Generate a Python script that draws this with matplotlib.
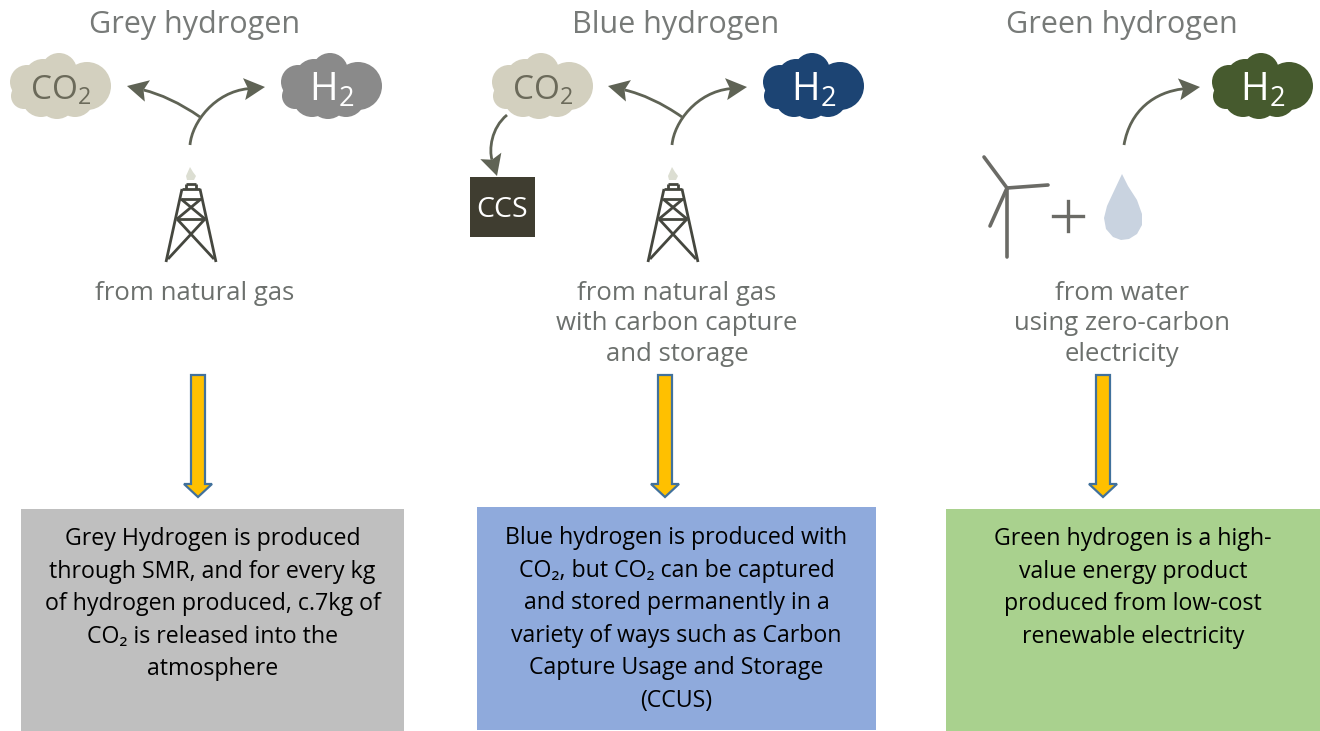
import matplotlib
matplotlib.use("Agg")
import matplotlib.pyplot as plt
import numpy as np
from matplotlib.patches import Circle, Polygon, Rectangle, PathPatch
from matplotlib.path import Path

plt.rcParams["font.family"] = ["Open Sans", "DejaVu Sans"]
plt.rcParams["mathtext.fontset"] = "custom"
plt.rcParams["mathtext.rm"] = "Open Sans"
plt.rcParams["mathtext.default"] = "regular"

TITLE_COLOR = "#777a78"
CAPTION_COLOR = "#6c706d"
ARROW_COLOR = "#5f6355"
TOWER_COLOR = "#45473f"

# column headers and captions
titles = ["Grey hydrogen", "Blue hydrogen", "Green hydrogen"]
title_x = [195, 676, 1122]
captions = [
    "from natural gas",
    "from natural gas\nwith carbon capture\nand storage",
    "from water\nusing zero-carbon\nelectricity",
]
caption_x = [195, 677, 1122]

# text boxes: left, top, right, bottom
box_edges = [(21, 509, 404, 731), (477, 507, 876, 730), (946, 509, 1320, 731)]
box_colors = ["#bfbfbf", "#8faadc", "#a9d18e"]
box_baselines = [545, 544, 545]
box_texts = [
    "Grey Hydrogen is produced\nthrough SMR, and for every kg\nof hydrogen produced, c.7kg of\nCO₂ is released into the\natmosphere",
    "Blue hydrogen is produced with\nCO₂, but CO₂ can be captured\nand stored permanently in a\nvariety of ways such as Carbon\nCapture Usage and Storage\n(CCUS)",
    "Green hydrogen is a high-\nvalue energy product\nproduced from low-cost\nrenewable electricity",
]

# clouds: centre x, centre y, colour, label, label colour, label size
clouds = [
    (59, 86, "#d3d0bf", r"$CO_2$", "#6b6a5a", 24),
    (330, 86, "#8a8a8a", r"$H_2$", "#ffffff", 28),
    (541, 86, "#d3d0bf", r"$CO_2$", "#6b6a5a", 24),
    (812, 86, "#1c4473", r"$H_2$", "#ffffff", 28),
    (1261, 86, "#465a2e", r"$H_2$", "#ffffff", 28),
]
cloud_lobes = [
    (-32, -4, 17), (-35, 10, 13), (-16, -8, 19), (0, -15, 18), (-18, 12, 19),
    (6, 2, 24), (28, 0, 24), (-2, 14, 19), (16, 12, 19), (-1, -6, 22),
]

# down arrows
down_arrow_x = [198, 665, 1103]

# curved arrows as bezier control points
grey_stems = [
    [(190, 145), (192, 122), (215, 92), (265, 87)],
    [(200, 117), (180, 103), (160, 94), (127, 86)],
]
blue_stems = [
    [(672, 145), (674, 122), (697, 92), (747, 87)],
    [(682, 117), (662, 103), (642, 94), (608, 86)],
    [(507, 115), (491, 128), (489, 150), (497, 176)],
]
green_stems = [[(1124, 145), (1130, 110), (1155, 92), (1200, 87)]]

# gas towers: centre x
tower_x = [191, 673]
tower_segments = [
    ((-25, 79), (-9, 6)), ((25, 79), (9, 6)), ((-9, 6), (9, 6)),
    ((-10, 16), (10, 16)), ((-14, 36), (14, 36)), ((-10, 16), (14, 36)),
    ((10, 16), (-14, 36)), ((-14, 36), (23, 76)), ((14, 36), (-23, 76)),
    ((-5, 1), (5, 1)), ((-5, 1), (-5, 6)), ((5, 1), (5, 6)),
]
flame_shape = [(-1, -13), (-5, -4), (-4, 0), (3, 0), (5, -4), (2, -8)]

# wind turbine and water drop
turbine_hub = (1007, 188)
turbine_ends = [(1007, 257), (984, 157), (1048, 185), (990, 226)]
plus_centre = (1068, 216)
drop_outline = [
    (1122, 174), (1128, 186), (1137, 200), (1142, 214), (1142, 225), (1137, 234),
    (1129, 239), (1121, 240), (1113, 237), (1106, 229), (1104, 218), (1107, 206),
    (1114, 191),
]


def draw_stem(ax, stem):
    # line stops inside the notch, head is a notched triangle on the end tangent
    pts = np.array(stem, dtype=float)
    direction = pts[3] - pts[2]
    direction = direction / np.hypot(*direction)
    normal = np.array([-direction[1], direction[0]])
    tip = pts[3]
    base = tip - 21 * direction
    notch = tip - 17 * direction
    line = pts.copy()
    line[3] = notch
    path = Path(line, [Path.MOVETO, Path.CURVE4, Path.CURVE4, Path.CURVE4])
    ax.add_patch(PathPatch(path, facecolor="none", edgecolor=ARROW_COLOR, lw=2.0))
    ax.add_patch(Polygon([tip, base + 11 * normal, notch, base - 11 * normal], closed=True,
                         facecolor=ARROW_COLOR, edgecolor="none"))


fig = plt.figure(figsize=(13.2, 7.31), dpi=100)
ax = fig.add_axes([0, 0, 1, 1])
ax.set_xlim(0, 1320)
ax.set_ylim(731, 0)
ax.axis("off")

for x, label in zip(title_x, titles):
    ax.text(x, 33, label, ha="center", va="baseline", fontsize=22, color=TITLE_COLOR)

for x, caption in zip(caption_x, captions):
    for i, line in enumerate(caption.split("\n")):
        ax.text(x, 300 + i * 30.5, line, ha="center", va="baseline", fontsize=18.5, color=CAPTION_COLOR)

for cx, cy, color, label, label_color, size in clouds:
    for dx, dy, r in cloud_lobes:
        ax.add_patch(Circle((cx + dx, cy + dy), r, color=color, lw=0))
    ax.text(cx + 2, cy + 5, label, ha="center", va="center", fontsize=size, color=label_color)

for stem in grey_stems + blue_stems + green_stems:
    draw_stem(ax, stem)

for x in tower_x:
    for (x0, y0), (x1, y1) in tower_segments:
        ax.plot([x + x0, x + x1], [183 + y0, 183 + y1], color=TOWER_COLOR, lw=2.0, solid_capstyle="butt")
    ax.add_patch(Polygon([(x + dx, 180 + dy) for dx, dy in flame_shape], closed=True,
                         facecolor="#dcded2", edgecolor="none"))

ax.add_patch(Rectangle((470, 177), 65, 60, facecolor="#3f3d30", edgecolor="none"))
ax.text(502, 210, "CCS", ha="center", va="center", fontsize=20.5, color="white")

for end in turbine_ends:
    ax.plot([turbine_hub[0], end[0]], [turbine_hub[1], end[1]], color="#6b6b66", lw=2.6, solid_capstyle="round")
ax.plot([plus_centre[0] - 15, plus_centre[0] + 15], [plus_centre[1]] * 2, color="#6b6b66", lw=2.4)
ax.plot([plus_centre[0]] * 2, [plus_centre[1] - 15, plus_centre[1] + 15], color="#6b6b66", lw=2.4)
ax.add_patch(Polygon(drop_outline, closed=True, facecolor="#c9d3e0", edgecolor="none"))

for x in down_arrow_x:
    shape = [(x - 7, 375), (x + 7, 375), (x + 7, 484), (x + 14, 484), (x, 497), (x - 14, 484), (x - 7, 484)]
    ax.add_patch(Polygon(shape, closed=True, facecolor="#ffc000", edgecolor="#41719c", lw=1.6))

for (left, top, right, bottom), color, baseline, text in zip(box_edges, box_colors, box_baselines, box_texts):
    ax.add_patch(Rectangle((left, top), right - left, bottom - top, facecolor=color, edgecolor="none"))
    for i, line in enumerate(text.split("\n")):
        ax.text((left + right) / 2, baseline + i * 32.6, line, ha="center", va="baseline",
                fontsize=16.7, color="black")

fig.savefig("out.png", dpi=100)
plt.close()
